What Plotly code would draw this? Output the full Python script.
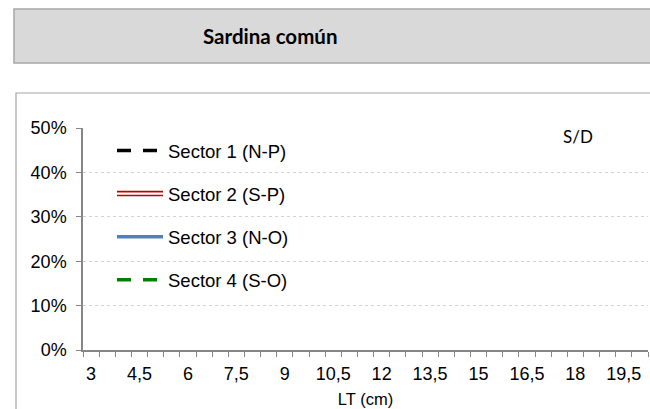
import plotly.graph_objects as go

# ---- data ----
lengths = [3, 3.5, 4, 4.5, 5, 5.5, 6, 6.5, 7, 7.5, 8, 8.5, 9, 9.5, 10, 10.5, 11, 11.5,
           12, 12.5, 13, 13.5, 14, 14.5, 15, 15.5, 16, 16.5, 17, 17.5, 18, 18.5, 19, 19.5, 20]
tick_vals = [3, 4.5, 6, 7.5, 9, 10.5, 12, 13.5, 15, 16.5, 18, 19.5]
tick_text = ["3", "4,5", "6", "7,5", "9", "10,5", "12", "13,5", "15", "16,5", "18", "19,5"]
y_ticks = [0, 0.1, 0.2, 0.3, 0.4, 0.5]
series_names = ["Sector 1 (N-P)", "Sector 2 (S-P)", "Sector 3 (N-O)", "Sector 4 (S-O)"]
# no data available (S/D) for any sector: every length class is empty
sector1 = [None] * len(lengths)
sector2 = [None] * len(lengths)
sector3 = [None] * len(lengths)
sector4 = [None] * len(lengths)

W, H = 650, 409
L, R, T, B = 83, 2, 128, 59
pw, ph = W - L - R, H - T - B


def px(x):
    return (x - L) / pw


def py(y):
    return (H - B - y) / ph


fig = go.Figure()

styles = [
    dict(color="#000000", width=3.5, dash="14px,12px"),
    dict(color="#C00000", width=5.5),
    dict(color="#4F81BD", width=3.5),
    dict(color="#008000", width=3.5, dash="14px,12px"),
]
for i, (name, vals, st) in enumerate(zip(series_names, [sector1, sector2, sector3, sector4], styles)):
    fig.add_trace(go.Scatter(x=lengths, y=vals, mode="lines", name=name,
                             line=st, legendgroup=f"g{i}", legend="legend"))

# overlay giving the double-line look of the Sector 2 legend symbol
fig.add_trace(go.Scatter(x=lengths, y=sector1, mode="lines", name=" ",
                         line=dict(color="rgba(0,0,0,0)", width=1),
                         legendgroup="h0", legend="legend2", hoverinfo="skip"))
fig.add_trace(go.Scatter(x=lengths, y=sector2, mode="lines", name=" ",
                         line=dict(color="#FFFFFF", width=2.2),
                         legendgroup="h1", legend="legend2", hoverinfo="skip"))

leg_common = dict(x=px(112), y=py(132), xanchor="left", yanchor="top",
                  itemwidth=46, tracegroupgap=16, borderwidth=0,
                  bgcolor="rgba(0,0,0,0)", traceorder="grouped")

fig.update_layout(
    width=W, height=H,
    margin=dict(l=L, r=R, t=T, b=B),
    paper_bgcolor="white", plot_bgcolor="white",
    font=dict(family="Liberation Sans, Arial", size=18, color="#000000"),
    showlegend=True,
    legend=dict(**leg_common, font=dict(family="Liberation Sans, Arial", size=18.5, color="#000000")),
    legend2=dict(**leg_common, font=dict(family="Liberation Sans, Arial", size=18.5, color="rgba(0,0,0,0)")),
    xaxis=dict(
        range=[2.75, 20.25], showline=True, linecolor="#868686", linewidth=1.5,
        tickmode="array", tickvals=tick_vals, ticktext=tick_text, ticks="",
        showgrid=False, zeroline=False, ticklabelstandoff=7,
        minor=dict(tickmode="linear", tick0=2.75, dtick=0.5, ticks="outside",
                   ticklen=5, tickcolor="#868686", tickwidth=1, showgrid=False),
        title=dict(text="LT (cm)", font=dict(size=16.5), standoff=10),
        tickfont=dict(size=18),
    ),
    yaxis=dict(
        range=[0, 0.5], tickmode="array", tickvals=y_ticks, tickformat=".0%",
        showline=True, linecolor="#868686", linewidth=1.5,
        ticks="outside", ticklen=5, tickcolor="#868686",
        showgrid=True, gridcolor="#D3D3D3", griddash="dot", gridwidth=1,
        zeroline=False, ticklabelstandoff=6, tickfont=dict(size=18),
    ),
    shapes=[
        dict(type="rect", xref="paper", yref="paper",
             x0=px(14), x1=px(700), y0=py(63), y1=py(9),
             fillcolor="#D9D9D9", line=dict(color="#A6A6A6", width=1.5), layer="below"),
        dict(type="rect", xref="paper", yref="paper",
             x0=px(16), x1=px(700), y0=py(460), y1=py(93),
             fillcolor="rgba(0,0,0,0)", line=dict(color="#A6A6A6", width=1.2), layer="below"),
    ],
    annotations=[
        dict(text="<b>Sardina común</b>", xref="paper", yref="paper",
             x=px(270), y=py(36), xanchor="center", yanchor="middle", showarrow=False,
             font=dict(family="Lato, Noto Sans", size=20.5, color="#000000")),
        dict(text="S/D", xref="paper", yref="paper",
             x=px(578), y=py(136), xanchor="center", yanchor="middle", showarrow=False,
             font=dict(family="Lato, Noto Sans", size=17, color="#000000")),
    ],
)

fig.write_html(
    "out.html",
    config={"displayModeBar": False},
    post_script="document.body.style.margin='0';document.body.style.overflow='hidden';",
)
